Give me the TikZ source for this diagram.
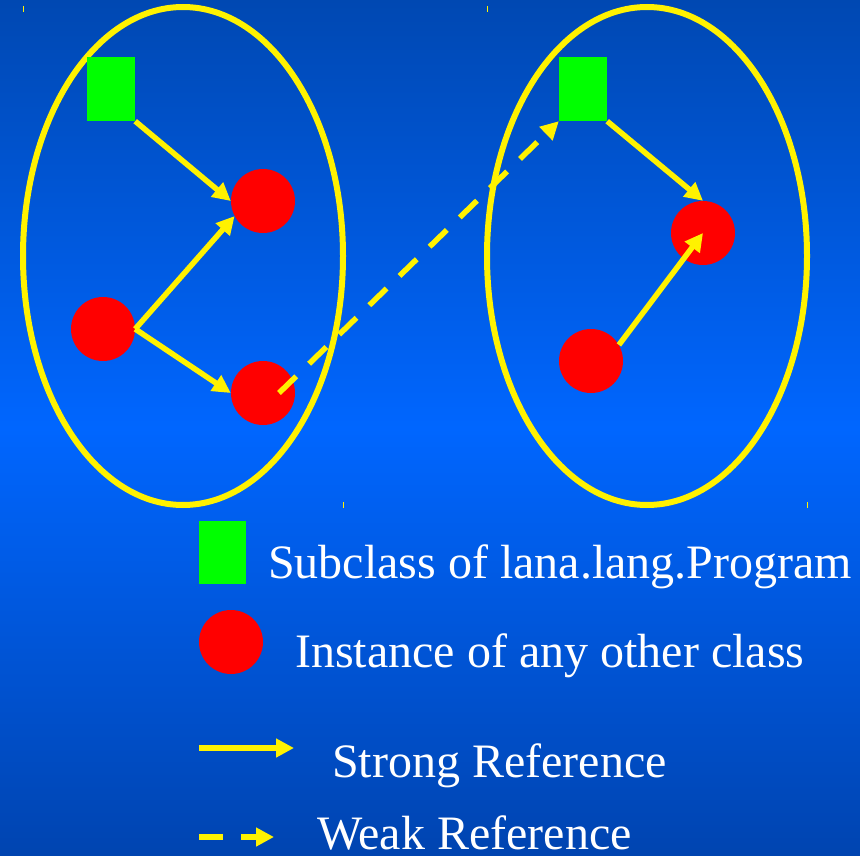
\documentclass[tikz,border=0pt]{standalone}
\usepackage{fontspec}
\setmainfont{Liberation Serif}
\usepackage{tikz}
\usetikzlibrary{shapes,arrows.meta}
\definecolor{slidetop}{RGB}{0,72,178}
\definecolor{slidemid}{RGB}{0,102,255}
\definecolor{slidebot}{RGB}{0,68,176}
\tikzset{main node/.style={circle,fill=red,minimum size=64pt,inner sep=0pt},}
\tikzset{main rectangle/.style={rectangle,fill=green,minimum width=48pt,minimum height=64pt,inner sep=0pt},}
\tikzset{main ellipse/.style={ellipse,draw=yellow,line width=6pt,minimum width=320pt,minimum height=498pt,inner sep=0pt,outer sep=0pt},}
\tikzset{strong ref/.style={yellow,line width=5.5pt,-{Triangle[length=18pt,width=18pt]}},}
\tikzset{weak ref/.style={strong ref,dash pattern=on 24pt off 18pt},}
\tikzset{legend text/.style={white,inner sep=0pt,anchor=base west,font=\fontsize{48}{48}\selectfont},}
\tikzset{corner tick/.style={yellow,line width=1pt},}

\begin{document}
\begin{tikzpicture}[x=1pt,y=-1pt]
    \shade[top color=slidetop,bottom color=slidebot,middle color=slidemid] (0,0) rectangle (860,856);
    \useasboundingbox (0,0) rectangle (860,856);

    % two object spaces
    \node[main ellipse] (a) at (183,256) {};
    \node[main ellipse] (b) at (647,256) {};
    \draw[corner tick] (a.west |- a.north) ++(0,-1) -- ++(0,6);
    \draw[corner tick] (b.west |- b.north) ++(0,-1) -- ++(0,6);
    \draw[corner tick] (a.east |- a.south) ++(0,-3) -- ++(0,6);
    \draw[corner tick] (b.east |- b.south) ++(0,-3) -- ++(0,6);

    \node[main rectangle] (1) at (111,89) {};
    \node[main node] (2) at (263,201) {};
    \node[main node] (3) at (103,329) {};
    \node[main node] (4) at (263,393) {};
    \node[main rectangle] (5) at (583,89) {};
    \node[main node] (6) at (703,233) {};
    \node[main node] (7) at (591,361) {};

    \path[strong ref] (1.south east) edge (2.west);
    \path[strong ref] (3.east) edge (2.208);
    \path[strong ref] (3.east) edge (4.west);
    \path[strong ref] (5.south east) edge (6.north);
    \path[strong ref] (7.30) edge (6.center);
    \path[weak ref] ([xshift=16pt]4.center) edge (5.south west);

    % legend
    \node[main rectangle,minimum width=47pt,minimum height=63pt] (8) at (222.5,552.5) {};
    \node[legend text] (t8) at (268,578) {Subclass of lana.lang.Program};
    \node[main node] (9) at (231,642) {};
    \node[legend text] (t9) at (295,667) {Instance of any other class};
    \coordinate (s1) at (199,748);
    \coordinate (s2) at (294,748);
    \path[strong ref] (s1) edge (s2);
    \node[legend text] (ts) at (332,777) {Strong Reference};
    \coordinate (w1) at (199,837);
    \coordinate (w2) at (274,837);
    \path[weak ref] (w1) edge (w2);
    \node[legend text] (tw) at (317,849) {Weak Reference};
\end{tikzpicture}
\end{document}
